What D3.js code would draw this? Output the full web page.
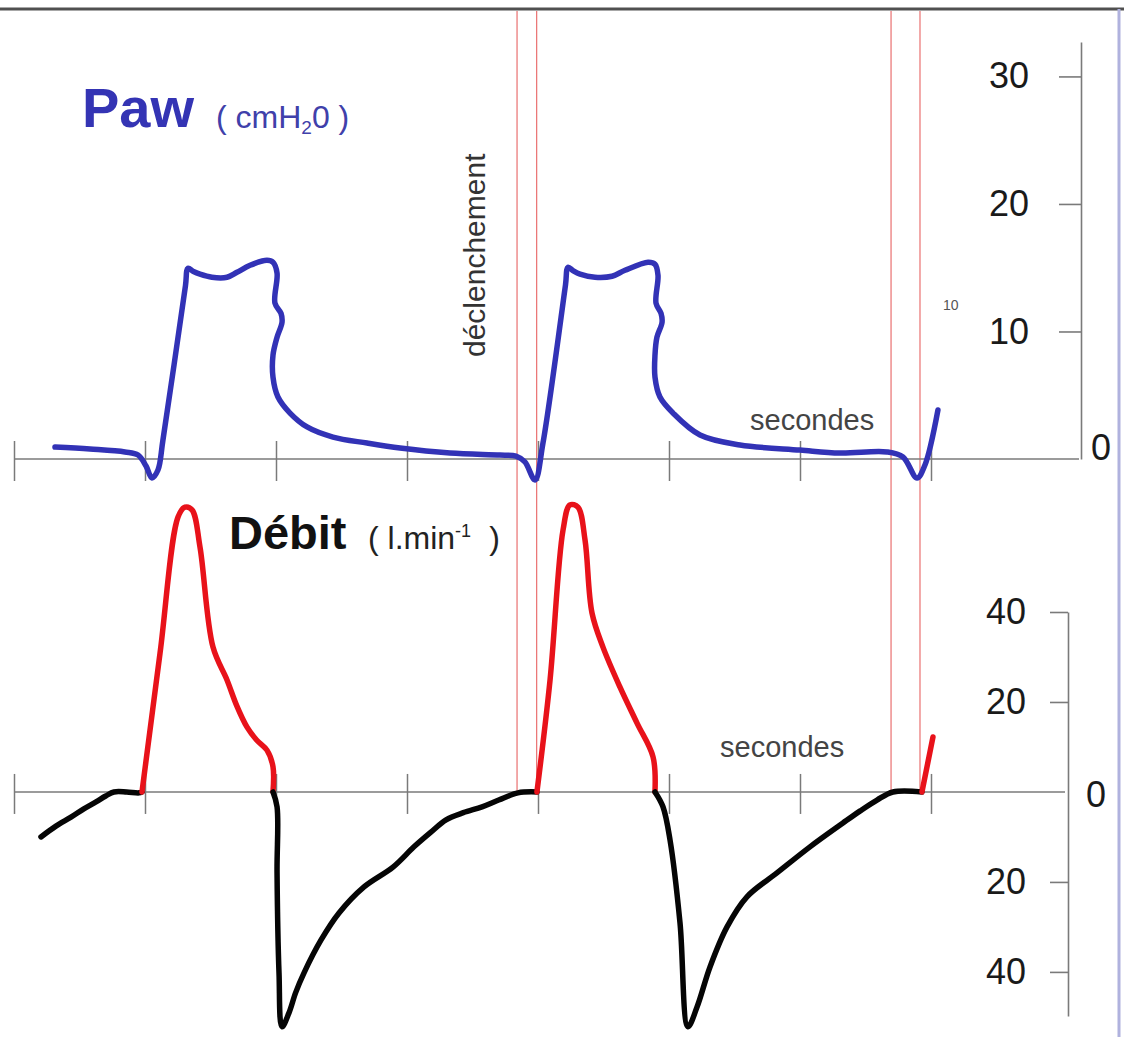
<!DOCTYPE html>
<html><head><meta charset="utf-8">
<script src="https://cdn.jsdelivr.net/npm/d3@7"></script>
<style>
html,body{margin:0;padding:0;background:#fff;}
svg{display:block;font-family:"Liberation Sans",Arial,Helvetica,sans-serif;}
</style></head><body>
<svg id="chart" width="1124" height="1037"></svg>
<script>
// ---------- data ----------
const tickSeconds = [0,1,2,3,4,5,6,7];
const pawTicks = [10,20,30];
const flowTicks = [40,20,-20,-40];
const triggerTimes = [3.84, 3.99, 6.695, 6.916];

// airway pressure trace (seconds, cmH2O)
const pawTime = [0.313,0.58,0.847,0.947,1.008,1.053,1.099,1.137,1.309,1.328,1.37,1.42,1.511,1.626,1.702,1.802,1.931,1.977,2.008,1.992,2.038,2.046,2.008,1.977,1.977,2.015,2.107,2.237,2.435,2.695,2.947,3.328,3.71,3.832,3.9,3.977,4.038,4.21,4.229,4.27,4.321,4.435,4.565,4.664,4.84,4.893,4.916,4.901,4.939,4.947,4.908,4.893,4.893,4.931,5.031,5.237,5.542,6.0,6.305,6.664,6.786,6.893,6.954,7.053];
const pawValue = [0.94,0.78,0.55,0.31,-0.55,-1.49,-0.86,1.49,13.6,14.96,14.7,14.49,14.25,14.25,14.64,15.19,15.58,15.43,14.57,12.22,11.43,10.73,9.55,8.14,6.42,4.86,3.6,2.51,1.72,1.25,0.86,0.47,0.31,0.23,-0.23,-1.64,1.25,13.66,15.04,14.75,14.49,14.25,14.33,14.8,15.43,15.27,14.41,12.22,11.43,10.73,9.55,8.14,6.42,4.86,3.6,1.88,1.1,0.7,0.47,0.55,0.16,-1.49,-0.47,3.84];

// flow trace (seconds, l/min) with phase: E = expiration (black), I = insufflation (red)
const flowTime = [0.206,0.32,0.435,0.53,0.626,0.70,0.763,0.86,0.954,0.977,
  1.115,1.252,1.305,1.359,1.42,1.519,1.626,1.70,1.779,1.85,1.931,1.977,1.977,
  2.008,2.008,2.023,2.046,2.099,2.15,2.214,2.344,2.481,2.672,2.893,3.053,3.18,3.298,3.43,3.573,3.70,3.847,3.992,
  4.092,4.191,4.244,4.305,4.359,4.412,4.496,4.626,4.756,4.878,4.893,
  4.954,5.008,5.084,5.145,5.214,5.313,5.443,5.595,5.824,6.076,6.328,6.46,6.588,6.71,6.931,
  7.015];
const flowValue = [-10.0,-7.6,-5.6,-3.8,-2.2,-0.9,0,0,-0.2,0,
  30.9,61.1,63.3,62.7,54.4,32.2,24.9,19.2,14.4,11.6,9.3,5.6,0,
  -3.3,-18.0,-40.2,-52.2,-49.1,-44.6,-40.2,-32.9,-26.9,-21.1,-16.7,-12.2,-9.0,-6.2,-4.6,-3.3,-1.8,-0.2,0,
  24.9,58.2,63.8,63.3,56.0,39.8,32.2,23.3,15.3,7.8,0,
  -3.3,-10.7,-29.1,-52.2,-47.8,-38.9,-30.0,-23.3,-18.0,-12.2,-6.9,-4.2,-1.8,0,0,
  12.2];
const flowPhase = ["E","E","E","E","E","E","E","E","E","E",
  "I","I","I","I","I","I","I","I","I","I","I","I","I",
  "E","E","E","E","E","E","E","E","E","E","E","E","E","E","E","E","E","E","E",
  "I","I","I","I","I","I","I","I","I","I","I",
  "E","E","E","E","E","E","E","E","E","E","E","E","E","E","E",
  "I"];

// ---------- drawing ----------
const svg = d3.select("#chart");
const x = d3.scaleLinear().domain([0,7]).range([14,931]);
const yP = d3.scaleLinear().domain([0,32.7]).range([459,42]);
const yF = d3.scaleLinear().domain([-49.8,40]).range([1016,612]);
const AX = "#7a7a7a";

// frame
svg.append("line").attr("x1",0).attr("x2",1124).attr("y1",9).attr("y2",9)
  .attr("stroke","#505050").attr("stroke-width",3);
svg.append("line").attr("x1",1119).attr("x2",1119).attr("y1",9).attr("y2",1037)
  .attr("stroke","#b0b2de").attr("stroke-width",3);

// trigger lines
svg.append("g").selectAll("line").data(triggerTimes).join("line")
  .attr("x1",d=>x(d)).attr("x2",d=>x(d)).attr("y1",11).attr("y2",yF(0))
  .attr("stroke","#e23c3c").attr("stroke-width",1.1).attr("stroke-opacity",0.8);

// time axes
function timeAxis(y0, xEnd){
  const g = svg.append("g").attr("transform",`translate(0,${y0-18})`)
    .call(d3.axisBottom(x).tickValues(tickSeconds).tickSize(40).tickSizeOuter(0).tickFormat(""));
  g.select(".domain").remove();
  g.selectAll(".tick line").attr("stroke",AX).attr("stroke-width",1.5);
  svg.append("line").attr("x1",x(0)+1).attr("x2",xEnd).attr("y1",y0).attr("y2",y0)
    .attr("stroke",AX).attr("stroke-width",1.6);
}
timeAxis(yP(0), 1079);
timeAxis(yF(0), 1065);

// value axes
function styleAxis(g, size){
  g.selectAll(".domain").attr("stroke",AX).attr("stroke-width",1.6);
  g.selectAll(".tick line").attr("stroke",AX).attr("stroke-width",1.6);
  g.selectAll(".tick text").attr("font-size",size).attr("fill","#1a1a1a")
    .attr("font-family","'Liberation Sans',Arial,sans-serif");
}
const gP = svg.append("g").attr("transform","translate(1081,0)")
  .call(d3.axisLeft(yP).tickValues(pawTicks).tickSize(22).tickSizeOuter(0).tickPadding(30));
styleAxis(gP, 36);
svg.append("text").attr("x",1091).attr("y",yP(0)-12).attr("dy","0.35em")
  .attr("font-size",36).attr("fill","#1a1a1a").text("0");

const gF = svg.append("g").attr("transform","translate(1068,0)")
  .call(d3.axisLeft(yF).tickValues(flowTicks).tickFormat(d=>Math.abs(d)).tickSize(18).tickSizeOuter(0).tickPadding(24));
styleAxis(gF, 36);
svg.append("text").attr("x",1086).attr("y",yF(0)+2).attr("dy","0.35em")
  .attr("font-size",36).attr("fill","#1a1a1a").text("0");

// pressure trace
const pawData = pawTime.map((t,i)=>({t, v:pawValue[i]}));
const lineP = d3.line().x(d=>x(d.t)).y(d=>yP(d.v)).curve(d3.curveCatmullRom.alpha(0.5));
svg.append("path").datum(pawData).attr("d",lineP)
  .attr("fill","none").attr("stroke","#3232b6").attr("stroke-width",5.5)
  .attr("stroke-linejoin","round").attr("stroke-linecap","round");

// flow trace, split into phases
const segs = [];
flowTime.forEach((t,i)=>{
  const p = {t, v:flowValue[i]};
  if(i===0 || flowPhase[i]!==flowPhase[i-1]){
    const s = {phase:flowPhase[i], pts:[]};
    if(i>0) s.pts.push({t:flowTime[i-1], v:flowValue[i-1]});
    segs.push(s);
  }
  segs[segs.length-1].pts.push(p);
});
const lineF = d3.line().x(d=>x(d.t)).y(d=>yF(d.v)).curve(d3.curveCatmullRom.alpha(0.5));
svg.append("g").selectAll("path").data(segs).join("path")
  .attr("d",d=>lineF(d.pts)).attr("fill","none")
  .attr("stroke",d=>d.phase==="I"?"#e8121a":"#050505").attr("stroke-width",5.5)
  .attr("stroke-linejoin","round").attr("stroke-linecap","round");

// texts
svg.append("text").attr("x",82).attr("y",127).attr("font-size",56).attr("font-weight","bold")
  .attr("fill","#3434b4").text("Paw");
const tU = svg.append("text").attr("x",216).attr("y",128).attr("font-size",32).attr("fill","#4040aa");
tU.append("tspan").text("( cmH");
tU.append("tspan").attr("font-size",19).attr("dy",6).text("2");
tU.append("tspan").attr("dy",-6).text("0 )");

svg.append("text").attr("x",229).attr("y",549).attr("font-size",47).attr("font-weight","bold")
  .attr("fill","#111").text("Débit");
const tF = svg.append("text").attr("x",368).attr("y",549).attr("font-size",32).attr("fill","#222");
tF.append("tspan").text("( l.min");
tF.append("tspan").attr("font-size",18).attr("dy",-12).text("-1");
tF.append("tspan").attr("dy",12).attr("dx",18).text(")");

svg.append("text").attr("transform","translate(485,357) rotate(-90)")
  .attr("font-size",30).attr("fill","#333").text("déclenchement");
svg.append("text").attr("x",750).attr("y",430).attr("font-size",29).attr("fill","#444").text("secondes");
svg.append("text").attr("x",720).attr("y",757).attr("font-size",29).attr("fill","#444").text("secondes");
svg.append("text").attr("x",943).attr("y",310).attr("font-size",14).attr("fill","#555").text("10");
</script>
</body></html>
